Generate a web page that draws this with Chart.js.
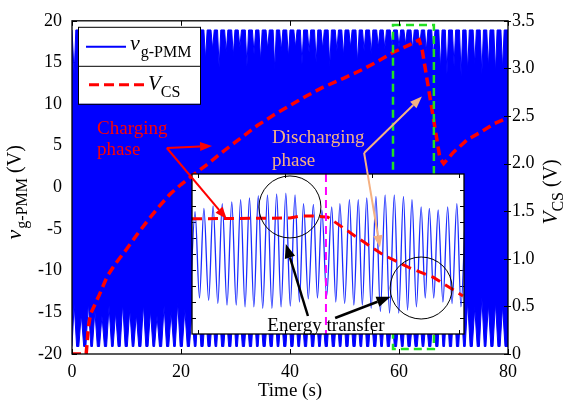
<!DOCTYPE html>
<html>
<head>
<meta charset="utf-8">
<script src="https://cdn.jsdelivr.net/npm/chart.js@4/dist/chart.umd.min.js"></script>
<style>
  body { margin: 0; background: #fff; }
  #wrap { position: relative; width: 565px; height: 402px; }
  #wrap canvas { position: absolute; left: 0; top: 0; }
</style>
</head>
<body>
<div id="wrap">
  <canvas id="main" width="565" height="402"></canvas>
  <canvas id="inset" width="565" height="402"></canvas>
</div>
<script>
// ======================================================
// v_g-PMM / V_CS charging plot with zoomed inset
// ======================================================
const FONT = '"Liberation Serif", "Times New Roman", Times, serif';
Chart.defaults.font.family = FONT;
Chart.defaults.color = '#000';

// ---- main plot data ----
const xTicks = [0, 20, 40, 60, 80];
const vTicks = [-20, -15, -10, -5, 0, 5, 10, 15, 20];
const vcsTicks = [0, 0.5, 1, 1.5, 2, 2.5, 3, 3.5];

// beat dips of the fast oscillation (time, dip of upper / lower envelope)
const beatTimes = [0.4, 1.7, 3.0, 4.2, 5.5, 6.8, 8.0, 9.3, 10.6, 11.8, 13.1, 14.4, 15.6, 16.9, 18.2, 19.4, 20.7, 22.0, 23.2,
  24.5, 25.8, 27.0, 28.3, 29.6, 30.8, 32.1, 33.4, 34.6, 35.9, 37.2, 38.4, 39.7, 41.0, 42.2, 43.5, 44.8, 46.0, 47.3, 48.6,
  49.8, 51.1, 52.4, 53.6, 54.9, 56.2, 57.4, 58.7, 60.0, 61.2, 62.5, 63.8, 65.0, 66.3, 67.6, 68.8, 70.1, 71.4, 72.6, 73.9,
  75.2, 76.4, 77.7, 79.0];
const topDip = [13.6, 15.8, 16.6, 15.0, 16.4, 14.8, 16.2, 15.4, 16.8, 14.6, 16.0, 15.6, 16.6, 14.8, 16.2, 15.2, 16.8, 14.6, 16.0,
  15.4, 16.6, 14.4, 16.2, 15.8, 16.8, 14.6, 16.0, 15.2, 16.6, 14.2, 16.4, 15.6, 16.8, 14.8, 16.2, 15.0, 16.6, 14.6, 16.4,
  15.8, 16.8, 15.0, 16.4, 16.0, 16.8, 16.6,
  17.0, 16.8, 17.2, 16.6, 17.0, 16.4, 15.6,
  14.2, 13.6, 14.6, 13.4, 14.0, 14.8, 13.6, 14.4, 13.8, 14.2];
const botDip = [-14.0, -15.2, -13.8, -14.8, -15.4, -14.2, -15.0, -13.9, -14.6, -15.2,
  -14.0, -14.8, -15.4, -14.2, -14.9, -13.8, -14.6, -15.2, -14.0, -14.8,
  -15.3, -14.2, -15.0, -14.4, -14.8, -15.2, -14.1, -14.9, -15.4, -14.3,
  -15.0, -14.5, -14.8, -15.2, -14.2, -14.9, -15.3, -14.4, -15.0, -14.6,
  -14.8, -15.2, -14.2, -14.8, -15.0, -14.4, -15.4, -15.8, -15.2, -16.0,
  -15.4, -15.6, -14.6, -13.6, -14.2, -13.4, -14.0, -13.6, -14.4, -13.2,
  -14.0, -13.8, -14.2];
const topLevel = 18.9;
const botLevel = -19.1;

const vcsTime = [0, 2.6, 3.0, 3.4, 5.0, 6.5, 8.0, 10, 12, 14, 16, 18, 20, 22, 25, 28, 31, 34, 37, 40, 43, 46,
  50, 53, 56, 59, 62, 63.7, 64.3, 67.5, 68.2, 70, 72.5, 75, 77.5, 80];
const vcsValue = [0, 0, 0.28, 0.42, 0.62, 0.82, 0.95, 1.1, 1.26, 1.41, 1.55, 1.68, 1.78, 1.87, 2.0, 2.14, 2.27, 2.4, 2.51, 2.61, 2.71, 2.8,
  2.9, 2.98, 3.07, 3.17, 3.25, 3.3, 3.18, 2.06, 2.0, 2.12, 2.25, 2.33, 2.42, 2.48];

// ---- inset data (zoom of 59-67 s) ----
const peakTime = [59.09, 59.35, 59.62, 59.89, 60.17, 60.43, 60.69, 60.95, 61.22, 61.49, 61.76, 62.03, 62.28, 62.57, 62.82,
  63.11, 63.35, 63.63, 63.89, 64.14, 64.41, 64.68, 64.95, 65.22, 65.47, 65.74, 65.98, 66.24, 66.52, 66.79, 67.05];
const peakValue = [5.3, 5.7, 6.0, 6.3, 6.5, 6.8, 7.0, 7.3, 7.4, 7.5, 7.6, 7.4, 6.3, 6.2, 5.5,
  5.9, 6.3, 6.8, 6.8, 7.0, 7.2, 7.4, 7.4, 7.2, 6.8, 5.9, 5.7, 5.5, 5.9, 6.3, 6.5];
const troughTime = [58.95, 59.22, 59.49, 59.76, 60.03, 60.30, 60.56, 60.82, 61.08, 61.35, 61.62, 61.89, 62.16, 62.42, 62.69,
  62.96, 63.23, 63.49, 63.76, 64.01, 64.27, 64.54, 64.81, 65.08, 65.34, 65.60, 65.86, 66.11, 66.38, 66.65, 66.91];
const troughValue = [-5.4, -5.5, -5.8, -6.2, -6.4, -6.4, -6.6, -6.6, -6.8, -6.8, -6.6, -6.5, -6.0, -5.6, -5.5,
  -5.3, -6.0, -6.2, -6.4, -6.4, -6.8, -7.2, -7.4, -7.4, -7.0, -6.6, -5.5, -5.5, -6.0, -6.2, -6.6];
const insetVcsTime = [59.0, 61.88, 62.18, 62.62, 63.0, 63.79, 64.62, 65.41, 66.09, 66.97];
const insetVcsValue = [4.4, 4.5, 4.75, 4.75, 4.6, 2.25, -0.1, -1.75, -2.9, -5.25];
const insetVTicks = [-8, -6, -4, -2, 0, 2, 4, 6, 8];
const insetTimeTicks = [59.18, 61.74, 64.29, 66.85];
const switchTime = 62.94;

// annotation anchors (data coordinates)
const boxTimes = [58.9, 66.4];
const boxV = [19.5, -19.4];

const pts = (xs, ys) => xs.map((x, i) => ({ x, y: ys[i] }));

function envelope(level, dips, half) {
  const out = [{ x: 0, y: level }];
  beatTimes.forEach((t, i) => {
    out.push({ x: Math.max(0, t - half), y: level }, { x: t, y: dips[i] }, { x: Math.min(80, t + half), y: level });
  });
  out.push({ x: 80, y: level });
  return out;
}

function drawParts(ctx, x, y, parts) {
  let cx = x;
  parts.forEach(p => {
    ctx.font = p.font;
    ctx.fillText(p.text, cx, y + (p.dy || 0));
    cx += ctx.measureText(p.text).width + (p.gap || 0);
  });
}

function arrow(ctx, x1, y1, x2, y2, color, width, head) {
  const a = Math.atan2(y2 - y1, x2 - x1);
  const bx = x2 - head * Math.cos(a), by = y2 - head * Math.sin(a);
  const w = head * 0.38;
  ctx.save();
  ctx.strokeStyle = color; ctx.fillStyle = color; ctx.lineWidth = width;
  ctx.beginPath(); ctx.moveTo(x1, y1); ctx.lineTo(bx, by); ctx.stroke();
  ctx.beginPath();
  ctx.moveTo(x2, y2);
  ctx.lineTo(bx + w * Math.sin(a), by - w * Math.cos(a));
  ctx.lineTo(bx - w * Math.sin(a), by + w * Math.cos(a));
  ctx.closePath(); ctx.fill();
  ctx.restore();
}

const mainFrame = {
  id: 'mainFrame',
  beforeDatasetsDraw(chart) {
    const { ctx, chartArea: a, scales } = chart;
    ctx.save();
    ctx.strokeStyle = '#000'; ctx.lineWidth = 1;
    ctx.beginPath();
    vTicks.forEach(v => {
      const p = Math.round(scales.y.getPixelForValue(v)) + 0.5;
      ctx.moveTo(a.left, p); ctx.lineTo(a.left + 5, p);
    });
    ctx.stroke();
    ctx.restore();
  },
  afterDatasetsDraw(chart) {
    const { ctx, chartArea: a, scales } = chart;
    ctx.save();
    // green zoom box
    const x1 = scales.x.getPixelForValue(boxTimes[0]), x2 = scales.x.getPixelForValue(boxTimes[1]);
    const y1 = scales.y.getPixelForValue(boxV[0]), y2 = scales.y.getPixelForValue(boxV[1]);
    ctx.strokeStyle = '#22e022'; ctx.lineWidth = 2.5; ctx.setLineDash([8, 5]);
    ctx.strokeRect(x1, y1, x2 - x1, y2 - y1);
    ctx.setLineDash([]);
    // frame and ticks
    ctx.strokeStyle = '#000'; ctx.lineWidth = 1.3;
    ctx.strokeRect(a.left, a.top, a.right - a.left, a.bottom - a.top);
    ctx.lineWidth = 1;
    ctx.beginPath();
    xTicks.forEach(v => {
      const p = Math.round(scales.x.getPixelForValue(v)) + 0.5;
      ctx.moveTo(p, a.bottom); ctx.lineTo(p, a.bottom - 5);
      ctx.moveTo(p, a.top); ctx.lineTo(p, a.top + 5);
    });
    vcsTicks.forEach(v => {
      const p = Math.round(scales.y2.getPixelForValue(v)) + 0.5;
      ctx.moveTo(a.right - 4, p); ctx.lineTo(a.right + 3, p);
    });
    ctx.stroke();
    ctx.restore();
  },
  afterDraw(chart) {
    const { ctx, chartArea: a } = chart;
    ctx.save();
    // legend
    const lx = a.left + 6, ly = a.top + 6, lw = 122, lh = 77;
    ctx.fillStyle = '#fff'; ctx.fillRect(lx, ly, lw, lh);
    ctx.strokeStyle = '#000'; ctx.lineWidth = 1;
    ctx.strokeRect(lx + 0.5, ly + 0.5, lw, lh);
    ctx.beginPath(); ctx.moveTo(lx, ly + 39.5); ctx.lineTo(lx + lw, ly + 39.5); ctx.stroke();
    ctx.strokeStyle = '#0000ff'; ctx.lineWidth = 2;
    ctx.beginPath(); ctx.moveTo(lx + 8, ly + 20); ctx.lineTo(lx + 48, ly + 20); ctx.stroke();
    ctx.strokeStyle = '#ff0000'; ctx.lineWidth = 3; ctx.setLineDash([10, 5]);
    ctx.beginPath(); ctx.moveTo(lx + 11, ly + 58); ctx.lineTo(lx + 66, ly + 58); ctx.stroke();
    ctx.setLineDash([]);
    ctx.fillStyle = '#000'; ctx.textBaseline = 'alphabetic'; ctx.textAlign = 'left';
    drawParts(ctx, lx + 52, ly + 23, [
      { text: 'v', font: `italic 22px ${FONT}`, gap: 1 },
      { text: 'g-PMM', font: `16px ${FONT}`, dy: 7 }
    ]);
    drawParts(ctx, lx + 70, ly + 63, [
      { text: 'V', font: `italic 21px ${FONT}`, gap: 0 },
      { text: 'CS', font: `16px ${FONT}`, dy: 7 }
    ]);
    // left axis title
    ctx.save();
    ctx.translate(a.left - 51, (a.top + a.bottom) / 2 + 52);
    ctx.rotate(-Math.PI / 2);
    drawParts(ctx, 0, 0, [
      { text: 'v', font: `italic 22px ${FONT}`, gap: 1 },
      { text: 'g-PMM', font: `16px ${FONT}`, dy: 6 },
      { text: ' (V)', font: `20px ${FONT}` }
    ]);
    ctx.restore();
    // right axis title
    ctx.save();
    ctx.translate(a.right + 49, (a.top + a.bottom) / 2 + 37);
    ctx.rotate(-Math.PI / 2);
    drawParts(ctx, 0, 0, [
      { text: 'V', font: `italic 21px ${FONT}` },
      { text: 'CS', font: `16px ${FONT}`, dy: 6 },
      { text: ' (V)', font: `20px ${FONT}` }
    ]);
    ctx.restore();
    ctx.restore();
  }
};

const mainChart = new Chart(document.getElementById('main'), {
  type: 'line',
  data: {
    datasets: [
      { label: 'V_CS', data: pts(vcsTime, vcsValue), yAxisID: 'y2', order: 0, borderColor: '#ff0000', borderWidth: 3.5,
        borderDash: [9, 5], pointRadius: 0, fill: false },
      { label: 'v_g-PMM', data: envelope(topLevel, topDip, 0.3), yAxisID: 'y', order: 2, borderColor: '#0000ff',
        backgroundColor: '#0000ff', borderWidth: 1, pointRadius: 0, fill: 'start' },
      { label: 'v_g-PMM lower', data: envelope(botLevel, botDip, 0.45), yAxisID: 'y', order: 1, borderColor: '#0000ff',
        backgroundColor: '#ffffff', borderWidth: 1, pointRadius: 0, fill: 'start' }
    ]
  },
  options: {
    responsive: false, animation: false, events: [],
    layout: { padding: { top: 16, left: 0, right: 0, bottom: 0 } },
    plugins: { legend: { display: false }, tooltip: { enabled: false } },
    scales: {
      x: {
        type: 'linear', min: 0, max: 80,
        afterBuildTicks: s => { s.ticks = xTicks.map(v => ({ value: v })); },
        grid: { display: false, drawTicks: false }, border: { display: false },
        ticks: { color: '#000', font: { size: 18 }, padding: 7, maxRotation: 0, autoSkip: false },
        title: { display: true, text: 'Time (s)', color: '#000', font: { size: 19 }, padding: { top: 0, bottom: 0 } },
        afterFit: s => { s.height = 48; }
      },
      y: {
        position: 'left', min: -20, max: 20,
        afterBuildTicks: s => { s.ticks = vTicks.map(v => ({ value: v })); },
        grid: { display: false, drawTicks: false }, border: { display: false },
        ticks: { color: '#000', font: { size: 18 }, padding: 10, autoSkip: false },
        afterFit: s => { s.width = 72; }
      },
      y2: {
        position: 'right', min: 0, max: 3.5,
        afterBuildTicks: s => { s.ticks = vcsTicks.map(v => ({ value: v })); },
        grid: { display: false, drawTicks: false }, border: { display: false },
        ticks: { color: '#000', font: { size: 18 }, padding: 4, autoSkip: false,
          callback: v => v === 0 ? '0' : Number(v).toFixed(1) },
        afterFit: s => { s.width = 57; }
      }
    }
  },
  plugins: [mainFrame]
});

// ---- inset ----
const insetFrame = {
  id: 'insetFrame',
  beforeDatasetsDraw(chart) {
    const { ctx, chartArea: a, scales } = chart;
    ctx.save();
    ctx.fillStyle = '#fff';
    ctx.fillRect(a.left, a.top, a.right - a.left, a.bottom - a.top);
    ctx.strokeStyle = '#000'; ctx.lineWidth = 1;
    ctx.beginPath();
    insetVTicks.forEach(v => {
      const p = Math.round(scales.y.getPixelForValue(v)) + 0.5;
      ctx.moveTo(a.left, p); ctx.lineTo(a.left + 4, p);
      ctx.moveTo(a.right, p); ctx.lineTo(a.right - 4, p);
    });
    insetTimeTicks.forEach(t => {
      const p = Math.round(scales.x.getPixelForValue(t)) + 0.5;
      ctx.moveTo(p, a.top); ctx.lineTo(p, a.top + 4);
      ctx.moveTo(p, a.bottom); ctx.lineTo(p, a.bottom - 4);
    });
    ctx.stroke();
    ctx.restore();
  },
  afterDatasetsDraw(chart) {
    const { ctx, chartArea: a, scales } = chart;
    ctx.save();
    const sx = scales.x.getPixelForValue(switchTime);
    ctx.strokeStyle = '#ff00ff'; ctx.lineWidth = 2; ctx.setLineDash([8, 5]);
    ctx.beginPath(); ctx.moveTo(sx, a.top); ctx.lineTo(sx, a.bottom); ctx.stroke();
    ctx.setLineDash([]);
    ctx.strokeStyle = '#000'; ctx.lineWidth = 1.3;
    ctx.strokeRect(a.left, a.top, a.right - a.left, a.bottom - a.top);
    ctx.restore();
  }
};

const notes = {
  id: 'notes',
  afterDraw(chart) {
    const { ctx } = chart;
    const mx = mainChart.scales.x, my = mainChart.scales.y;
    const ix = chart.scales.x, iy = chart.scales.y;
    const M = (t, v) => [mx.getPixelForValue(t), my.getPixelForValue(v)];
    const I = (t, v) => [ix.getPixelForValue(t), iy.getPixelForValue(v)];
    ctx.save();
    ctx.textBaseline = 'alphabetic';
    ctx.font = `19px ${FONT}`;

    // energy transfer rings
    ctx.strokeStyle = '#000'; ctx.lineWidth = 1;
    [[61.88, 5.88], [65.74, -4.25]].forEach(([t, v]) => {
      const [x, y] = I(t, v);
      ctx.beginPath(); ctx.arc(x, y, 31, 0, Math.PI * 2); ctx.stroke();
    });
    ctx.fillStyle = '#000'; ctx.textAlign = 'center';
    ctx.fillText('Energy transfer', ...I(62.94, -9.6));
    arrow(ctx, ...I(62.41, -7.75), ...I(61.76, 1.25), '#000', 2.5, 14);
    arrow(ctx, ...I(63.21, -8.0), ...I(64.84, -5.34), '#000', 2.5, 14);

    // charging phase
    ctx.textAlign = 'left';
    ctx.fillStyle = '#ff0000';
    ctx.fillText('Charging', ...M(4.6, 6.4));
    ctx.fillText('phase', ...M(4.6, 3.9));
    arrow(ctx, ...M(17.4, 4.73), ...M(25.7, 4.97), '#ff0000', 2, 12);
    arrow(ctx, ...M(17.4, 4.73), ...M(28.4, -3.79), '#ff0000', 2, 12);

    // discharging phase
    ctx.fillStyle = '#f4b183';
    ctx.fillText('Discharging', ...M(36.7, 5.3));
    ctx.fillText('phase', ...M(36.7, 2.6));
    arrow(ctx, ...M(53.6, 4.14), ...M(64.2, 10.9), '#f4b183', 2, 12);
    arrow(ctx, ...M(53.6, 4.14), ...M(56.5, -7.2), '#f4b183', 2, 12);
    ctx.restore();
  }
};

const insetWave = pts(peakTime, peakValue).concat(pts(troughTime, troughValue)).sort((p, q) => p.x - q.x);

new Chart(document.getElementById('inset'), {
  type: 'line',
  data: {
    datasets: [
      { label: 'V_CS (zoom)', data: pts(insetVcsTime, insetVcsValue), borderColor: '#ff0000', borderWidth: 3,
        borderDash: [10, 6], pointRadius: 0, fill: false },
      { label: 'v_g-PMM (zoom)', data: insetWave, borderColor: '#1a2cff', borderWidth: 1.3, pointRadius: 0,
        fill: false, cubicInterpolationMode: 'monotone' }
    ]
  },
  options: {
    responsive: false, animation: false, events: [],
    layout: { padding: { left: 192, top: 174, right: 101, bottom: 68 } },
    plugins: { legend: { display: false }, tooltip: { enabled: false } },
    scales: {
      x: { type: 'linear', min: 59, max: 67, display: false },
      y: { min: -10, max: 10, display: false }
    }
  },
  plugins: [insetFrame, notes]
});
</script>
</body>
</html>
